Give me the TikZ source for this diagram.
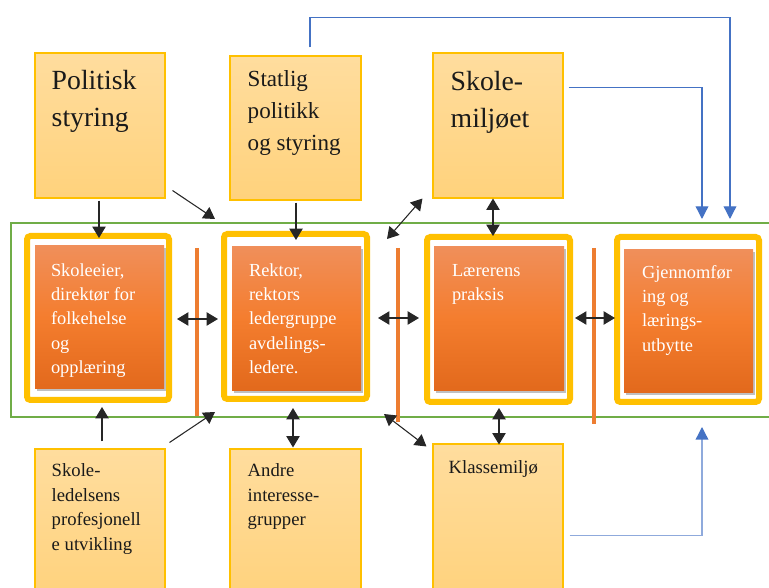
\documentclass[tikz,border=0pt]{standalone}
\usepackage{fontspec}
\setmainfont{Liberation Serif}
\usetikzlibrary{arrows.meta,calc,fit,shadows}
\definecolor{gold}{HTML}{FFC000}
\definecolor{ytop}{HTML}{FFDD9E}
\definecolor{ybot}{HTML}{FFD27C}
\definecolor{otop}{HTML}{F08F5A}
\definecolor{omid}{HTML}{F47D2E}
\definecolor{obot}{HTML}{E2691C}
\definecolor{oline}{HTML}{ED7D31}
\definecolor{grn}{HTML}{70AD47}
\definecolor{blu}{HTML}{4472C4}
\definecolor{blul}{HTML}{8FAADC}
\definecolor{ink}{HTML}{1A1A1A}
\begin{document}
\begin{tikzpicture}[x=0.75pt,y=-0.75pt,
  ybox/.style={draw=gold, line width=0.8pt, top color=ytop, bottom color=ybot, inner sep=0pt},
  frame/.style={draw=gold, line width=4.5pt, rounded corners=2.5pt, fill=white, inner sep=0pt},
  obox/.style={top color=otop, bottom color=obot, middle color=omid, inner sep=0pt,
    drop shadow={shadow xshift=1.5pt, shadow yshift=-1.5pt, opacity=0.35, fill=black!70}},
  txt/.style={anchor=north west, inner sep=0pt, align=left, text=ink},
  bigtxt/.style={txt, font=\fontsize{20.8}{27.75}\selectfont},
  midtxt/.style={txt, font=\fontsize{17.3}{24}\selectfont},
  otxt/.style={txt, text=white, font=\fontsize{13.8}{18.3}\selectfont},
  btxt/.style={txt, font=\fontsize{14}{18.4}\selectfont},
  arr/.style={-{Triangle[length=8.5pt,width=10pt]}, line width=0.8pt, draw=black!85},
  darr/.style={{Triangle[length=8.5pt,width=10pt]}-{Triangle[length=8.5pt,width=10pt]}, line width=0.8pt, draw=black!85},
  barr/.style={-{Triangle[length=9.5pt,width=9.5pt,color=blu]}, line width=1pt, draw=blu},
  sepline/.style={draw=oline, line width=2.4pt}
]
\useasboundingbox (0,0) rectangle (769,588);
\clip (0,0) rectangle (769,588);

% green region
\draw[grn, line width=1.5pt] (780,223) -- (11,223) -- (11,417) -- (780,417);

% top boxes
\node[ybox, fit={(35,53) (165,198)}] (pol) {};
\node[ybox, fit={(230,56) (361,200)}] (stat) {};
\node[ybox, fit={(433,53) (563,198)}] (skm) {};
% bottom boxes
\node[ybox, fit={(35,449) (165,600)}] (led) {};
\node[ybox, fit={(230,449) (361,600)}] (andre) {};
\node[ybox, fit={(433,444) (563,600)}] (klm) {};

% frames
\node[frame, fit={(27,236) (169,400)}] (f1) {};
\node[frame, fit={(224,234) (367,399)}] (f2) {};
\node[frame, fit={(427,237) (570,402)}] (f3) {};
\node[frame, fit={(617,237) (759,402)}] (f4) {};

% orange boxes
\node[obox, fit={(35,246) (164,389)}] (o1) {};
\node[obox, fit={(232,247) (361,391)}] (o2) {};
\node[obox, fit={(434,247) (564,391)}] (o3) {};
\node[obox, fit={(624,250) (753,393)}] (o4) {};

% separator lines
\draw[sepline] (197,248) -- (197,416);
\draw[sepline] (398,248) -- (398,422);
\draw[sepline] (594,248) -- (594,424);

% texts
\node[bigtxt] (tpol) at ($(pol.north west)+(17,11)$) {\strut Politisk\\styring};
\node[midtxt] (tstat) at ($(stat.north west)+(18,8.6)$) {\strut Statlig\\politikk\\og styring};
\node[bigtxt] (tskm) at ($(skm.north west)+(18,12)$) {\strut Skole-\\miljøet};
\node[otxt] (to1) at ($(o1.north west)+(16,13)$) {\strut Skoleeier,\\direktør for\\folkehelse\\og\\opplæring};
\node[otxt] (to2) at ($(o2.north west)+(17,12)$) {\strut Rektor,\\rektors\\ledergruppe\\avdelings-\\ledere.};
\node[otxt] (to3) at ($(o3.north west)+(18,12)$) {\strut Lærerens\\praksis};
\node[otxt] (to4) at ($(o4.north west)+(18,11)$) {\strut Gjennomfør\\ing og\\lærings-\\utbytte};
\node[btxt] (tled) at ($(led.north west)+(17,11)$) {\strut Skole-\\ledelsens\\profesjonell\\e utvikling};
\node[btxt] (tandre) at ($(andre.north west)+(18,11)$) {\strut Andre\\interesse-\\grupper};
\node[btxt] (tklm) at ($(klm.north west)+(16,13)$) {\strut Klassemiljø};

% black connectors
\draw[arr] ($(pol.south)+(-1,2)$) -- ($(f1.north)+(1,5)$);
\draw[arr] ($(pol.south east)+(7,-8)$) -- ($(f2.north west)+(-6,-12)$);
\draw[arr] ($(stat.south)+(0.5,2)$) -- ($(f2.north)+(0.5,9)$);
\draw[darr] ($(skm.south)+(-5,0)$) -- ($(f3.north)+(-5.5,2)$);
\draw[darr] ($(skm.south west)+(-10,0)$) -- ($(f2.north east)+(17,8)$);
\draw[darr] ($(f1.east)+(5,1)$) -- ($(f2.west)+(-3,2.5)$);
\draw[darr] ($(f2.east)+(8,1.5)$) -- ($(f3.west)+(-5,-1.5)$);
\draw[darr] ($(f3.east)+(2,-1.5)$) -- ($(f4.west)+(1,-1.5)$);
\draw[arr] ($(led.north)+(2,-7)$) -- ($(f1.south)+(4,4)$);
\draw[arr] ($(led.north east)+(4,-6)$) -- ($(f2.south west)+(-6,10)$);
\draw[darr] ($(andre.north)+(-2.5,-1)$) -- ($(f2.south)+(-2.5,6)$);
\draw[darr] ($(klm.north west)+(-6,3)$) -- ($(f2.south east)+(14,12)$);
\draw[darr] ($(klm.north)+(1,1)$) -- ($(f3.south)+(0.5,3)$);

% blue connectors
\draw[barr] ($(stat.north)+(14.5,-8)$) -- ++(0,-30) -| ($(f4.north)+(42,-15)$);
\draw[barr] ($(skm.north east)+(5,35)$) -| ($(f4.north)+(14,-15)$);
\draw[barr, draw=blul] ($(klm.north east)+(6,92)$) -| ($(f4.south)+(14,22)$);
\end{tikzpicture}
\end{document}
